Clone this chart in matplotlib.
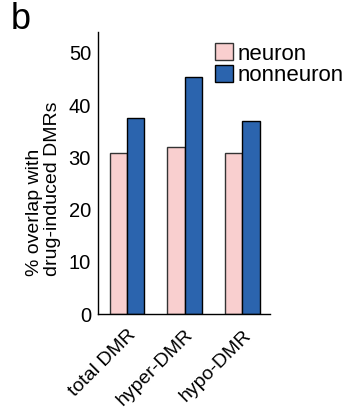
import numpy as np
from matplotlib import rcParams
from matplotlib import pyplot as plt

categories = ["total DMR", "hyper-DMR", "hypo-DMR"]
neuron = [30.9, 31.9, 30.9]
nonneuron = [37.5, 45.4, 37.0]

rcParams["font.family"] = ["Liberation Sans", "DejaVu Sans"]
rcParams["font.size"] = 14

fig = plt.figure(figsize=(3.43, 4.17), dpi=100)
ax = fig.add_axes([0.2857, 0.247, 0.787 - 0.2857, 0.923 - 0.247])

x = np.arange(len(categories))
w = 0.3
ax.bar(x - w / 2, neuron, w, color="#f9cfcf", edgecolor="#333333", linewidth=1, label="neuron")
ax.bar(x + w / 2, nonneuron, w, color="#2b64ae", edgecolor="black", linewidth=1, label="nonneuron")

ax.set_xlim(-0.5, 2.48)
ax.set_ylim(0, 54)
ax.set_yticks([0, 10, 20, 30, 40, 50])
ax.tick_params(axis="both", length=0)
ax.tick_params(axis="y", pad=5, labelsize=14.5)
ax.tick_params(axis="x", pad=9, labelsize=14)
ax.set_xticks(x)
ax.set_xticklabels(categories, rotation=45, ha="right", rotation_mode="anchor")

for s in ["top", "right"]:
    ax.spines[s].set_visible(False)
ax.spines["left"].set_linewidth(1)
ax.spines["bottom"].set_linewidth(1)

# y label, both lines start at the same height
ax.text(-0.215, 0.135, "% overlap with\ndrug-induced DMRs", transform=ax.transAxes,
        rotation=90, rotation_mode="anchor", ha="left", va="bottom",
        multialignment="left", fontsize=14, linespacing=1.05)

ax.legend(loc="upper left", bbox_to_anchor=(0.68, 0.96), frameon=False,
          fontsize=16, handlelength=0.8, handleheight=0.8, handletextpad=0.2,
          labelspacing=0.0, borderaxespad=0, borderpad=0)

fig.text(0.03, 0.995, "b", fontsize=26, va="top", ha="left")

fig.savefig("out.png", dpi=100)
